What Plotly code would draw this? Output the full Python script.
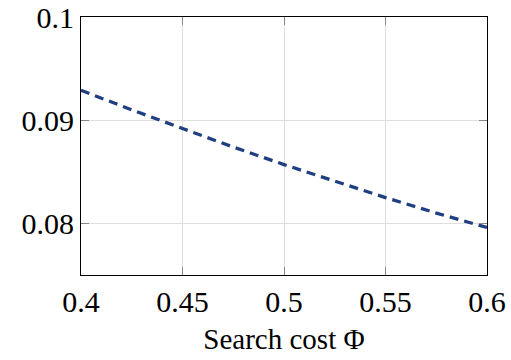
import plotly.graph_objects as go

search_cost = [0.4, 0.425, 0.45, 0.475, 0.5, 0.525, 0.55, 0.575, 0.6]
values = [0.0929, 0.0910, 0.0892, 0.0874, 0.0857, 0.0841, 0.0825, 0.0810, 0.0796]

x_ticks = [0.4, 0.45, 0.5, 0.55, 0.6]
x_tick_labels = ["0.4", "0.45", "0.5", "0.55", "0.6"]
y_ticks = [0.08, 0.09, 0.1]
y_tick_labels = ["0.08", "0.09", "0.1"]

font_family = "Liberation Serif"

fig = go.Figure()
fig.add_trace(go.Scatter(
    x=search_cost, y=values, mode="lines",
    line=dict(color="#1f3f80", width=3.3, dash="9px,6px"),
    showlegend=False, cliponaxis=True, hoverinfo="skip",
))

axis_common = dict(
    showgrid=True, gridcolor="#dedede", gridwidth=1,
    showline=True, linecolor="black", linewidth=1.2, mirror="ticks",
    ticks="inside", ticklen=8, tickcolor="#888888", tickwidth=1,
    zeroline=False, automargin=False, ticklabeloverflow="allow",
    tickfont=dict(family=font_family, size=30, color="black"),
)

fig.update_layout(
    width=511, height=360,
    margin=dict(l=81, r=24, t=17, b=85),
    paper_bgcolor="white", plot_bgcolor="white",
    font=dict(family=font_family, color="black"),
    xaxis=dict(range=[0.4, 0.6], tickvals=x_ticks, ticktext=x_tick_labels,
               title=dict(text="Search cost Φ", font=dict(family=font_family, size=29), standoff=11),
               **axis_common),
    yaxis=dict(range=[0.075, 0.1], tickvals=y_ticks, ticktext=y_tick_labels,
               **axis_common),
)

fig.write_html("out.html", config={"displayModeBar": False},
               post_script="document.body.style.margin='0';")
